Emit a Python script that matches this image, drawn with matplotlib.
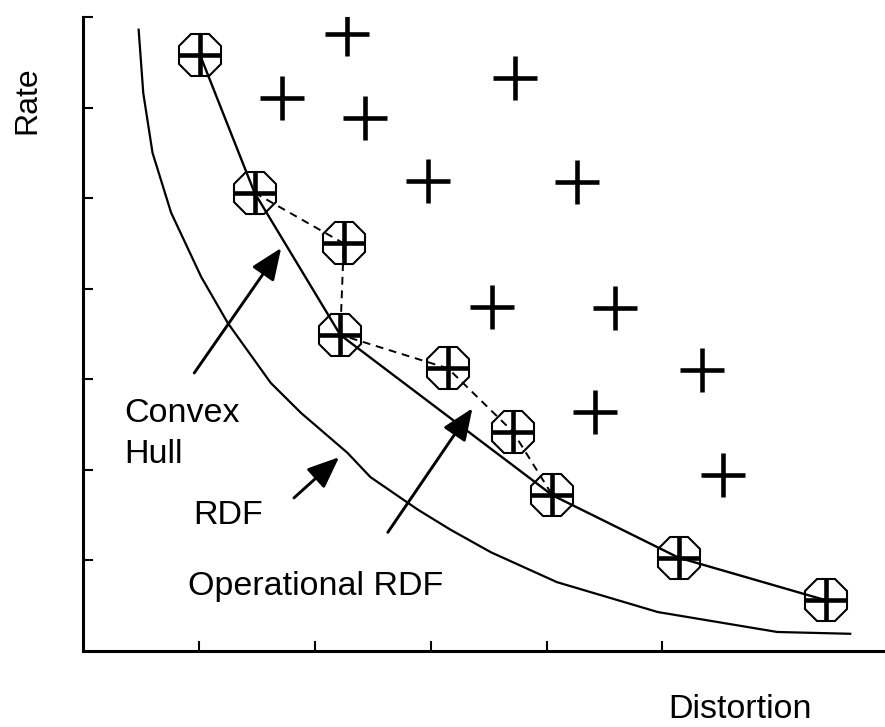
import numpy as np
import matplotlib.pyplot as plt

plt.rcParams['font.family'] = ['Liberation Sans', 'DejaVu Sans']

# operating points picked by the coder (circled)
op_x = [1.01, 1.48, 2.25, 2.22, 3.15, 3.71, 4.05, 5.14, 6.41]
op_y = [6.58, 5.06, 4.50, 3.49, 3.12, 2.42, 1.72, 1.03, 0.56]

# which of those lie on the convex hull / on the operational curve
hull_idx = [0, 1, 3, 6, 7, 8]
oper_idx = [1, 2, 3, 4, 5, 6]

# other achievable (rate, distortion) points
pt_x = [2.28, 1.72, 2.43, 3.73, 2.98, 4.26, 3.53, 4.59, 5.34, 4.42, 5.52]
pt_y = [6.81, 6.11, 5.88, 6.33, 5.19, 5.18, 3.80, 3.79, 3.10, 2.64, 1.94]

# theoretical rate-distortion function
rdf_x = [0.48, 0.52, 0.60, 0.76, 1.02, 1.25, 1.62, 1.88, 2.28, 2.48,
         2.89, 3.17, 3.52, 4.09, 4.96, 5.99, 6.62]
rdf_y = [6.86, 6.16, 5.50, 4.84, 4.13, 3.62, 2.96, 2.63, 2.19, 1.92,
         1.56, 1.34, 1.09, 0.76, 0.43, 0.21, 0.19]

fig = plt.figure(figsize=(8.85, 7.27), dpi=100)
ax = fig.add_axes([83 / 885, 76 / 727, 1 - 83 / 885, 634 / 727])

op_x = np.array(op_x)
op_y = np.array(op_y)

ax.plot(rdf_x, rdf_y, color='black', lw=1.6)
ax.plot(op_x[hull_idx], op_y[hull_idx], color='black', lw=1.7)
ax.plot(op_x[oper_idx], op_y[oper_idx], color='black', lw=1.4,
        linestyle=(0, (4, 3)))

ax.plot(pt_x, pt_y, '+', color='black', markersize=31, mew=3.3)
ax.plot(op_x, op_y, '+', color='black', markersize=30, mew=3.3)
ax.plot(op_x, op_y, '8', color='black', markerfacecolor='none',
        markersize=32, mew=1.5)

arrow = dict(arrowstyle='-|>,head_length=0.65,head_width=0.27',
             mutation_scale=30, color='black', lw=2.1, shrinkA=0, shrinkB=0)
ax.annotate('', xy=(1.71, 4.45), xytext=(0.96, 3.07), arrowprops=arrow)
ax.annotate('', xy=(3.36, 2.68), xytext=(2.63, 1.31), arrowprops=arrow)
ax.annotate('', xy=(2.21, 2.14), xytext=(1.82, 1.69), arrowprops=arrow)

fs = 24.5
ax.text(0.36, 2.53, 'Convex', fontsize=fs, va='baseline')
ax.text(0.36, 2.08, 'Hull', fontsize=fs, va='baseline')
ax.text(0.95, 1.40, 'RDF', fontsize=fs, va='baseline')
ax.text(0.91, 0.62, 'Operational RDF', fontsize=fs, va='baseline')

fig.text(668 / 885, 9 / 727, 'Distortion', fontsize=fs, va='baseline')
fig.text(27 / 885, 1 - 100 / 727, 'Rate', fontsize=23, rotation=90,
         ha='center', va='center')

ax.set_xlim(0, 6.92)
ax.set_ylim(0, 7)
ax.set_xticks([1, 2, 3, 4, 5])
ax.set_yticks([1, 2, 3, 4, 5, 6, 7])
ax.tick_params(direction='in', length=7, width=1.5,
               labelbottom=False, labelleft=False)
for side in ['top', 'right']:
    ax.spines[side].set_visible(False)
for side in ['left', 'bottom']:
    ax.spines[side].set_linewidth(2.2)

fig.savefig('out.png', dpi=100)
